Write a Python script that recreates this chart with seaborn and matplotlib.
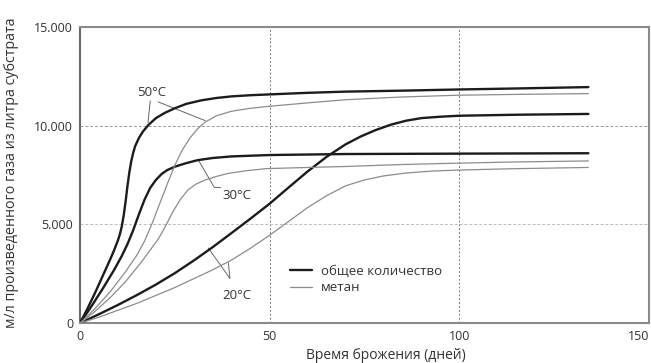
import matplotlib
matplotlib.use("Agg")
import matplotlib.pyplot as plt
from matplotlib.ticker import FuncFormatter, FixedLocator
from matplotlib.lines import Line2D
import pandas as pd
import seaborn as sns

# Gas yield curves: days of fermentation vs. ml of gas per litre of substrate
t50_total_days = [0, 2, 4, 6, 8, 9, 10, 10.5, 11, 11.5, 12, 12.5, 13, 13.5, 14, 14.5, 15.5, 16.5,
                  18, 20, 22.4, 25, 28, 32, 36, 40, 45, 50, 60, 70, 85, 100, 115, 134]
t50_total = [0, 750, 1550, 2400, 3250, 3700, 4200, 4500, 4900, 5450, 6150, 6950, 7650, 8200, 8620,
             8950, 9370, 9680, 10030, 10380, 10650, 10880, 11100, 11280, 11400, 11480, 11540,
             11580, 11660, 11720, 11770, 11830, 11880, 11950]

t50_methane_days = [0, 4, 8, 12, 15, 17, 19, 21, 23, 25, 27, 29, 31, 33, 36, 40, 45, 50, 60, 70,
                    85, 100, 115, 134]
t50_methane = [0, 750, 1600, 2600, 3450, 4150, 5050, 6050, 7050, 8000, 8780, 9380, 9840, 10180,
               10500, 10730, 10880, 10980, 11150, 11310, 11450, 11540, 11580, 11620]

t30_total_days = [0, 3, 6, 9, 11, 12.5, 14, 15.5, 17, 18.5, 20, 21.5, 23, 25, 28, 31, 35, 40, 50,
                  70, 100, 134]
t30_total = [0, 850, 1750, 2700, 3400, 4000, 4700, 5500, 6250, 6850, 7250, 7550, 7750, 7920, 8100,
             8250, 8360, 8440, 8510, 8560, 8580, 8600]

t30_methane_days = [0, 4, 8, 12, 16, 18.5, 20.6, 22.5, 24.5, 26.5, 28.5, 30.5, 33, 36, 39, 44, 49,
                    60, 70, 85, 100, 115, 134]
t30_methane = [0, 600, 1300, 2100, 3050, 3700, 4250, 4900, 5650, 6280, 6750, 7030, 7250, 7430,
               7580, 7720, 7820, 7880, 7930, 8030, 8100, 8160, 8210]

t20_total_days = [0, 5, 10, 15, 20, 25, 30, 35, 40, 45, 50, 55, 60, 65, 70, 74, 78, 82, 86, 90, 95,
                  100, 115, 134]
t20_total = [0, 450, 920, 1420, 1950, 2530, 3170, 3850, 4570, 5300, 6050, 6870, 7680, 8420, 9050,
             9450, 9780, 10050, 10250, 10380, 10450, 10500, 10550, 10590]

t20_methane_days = [0, 5, 10, 15, 20, 25, 30, 35, 40, 45, 50, 55, 60, 65, 70, 75, 80, 86, 93, 100,
                    115, 134]
t20_methane = [0, 300, 650, 1000, 1400, 1800, 2250, 2700, 3200, 3800, 4450, 5150, 5850, 6450, 6950,
               7250, 7450, 7600, 7700, 7750, 7820, 7880]

kind_labels = ["общее количество", "метан"]
temp_labels = ["50°C", "30°C", "20°C"]
x_ticks = [0, 50, 100, 150]
y_ticks = [0, 5000, 10000, 15000]

series = [
    ("50°C", kind_labels[0], t50_total_days, t50_total),
    ("50°C", kind_labels[1], t50_methane_days, t50_methane),
    ("30°C", kind_labels[0], t30_total_days, t30_total),
    ("30°C", kind_labels[1], t30_methane_days, t30_methane),
    ("20°C", kind_labels[0], t20_total_days, t20_total),
    ("20°C", kind_labels[1], t20_methane_days, t20_methane),
]
frames = [pd.DataFrame({"day": d, "value": v, "temp": t, "kind": k}) for t, k, d, v in series]
df = pd.concat(frames, ignore_index=True)

sns.set_theme(style="white")
plt.rcParams["font.family"] = ["Open Sans", "DejaVu Sans"]
text_color = "#333333"

fig = plt.figure(figsize=(6.51, 3.63), dpi=100)
ax = fig.add_axes([0.123, 0.110, 0.874, 0.816])

palette = {kind_labels[0]: "#1c1c1c", kind_labels[1]: "#8c8c8c"}
sizes = {kind_labels[0]: 1.7, kind_labels[1]: 0.9}
sns.lineplot(data=df, x="day", y="value", hue="kind", size="kind", units="temp",
             estimator=None, palette=palette, sizes=sizes, sort=False,
             legend=False, ax=ax, zorder=3)

ax.set_xlim(0, 150)
ax.set_ylim(0, 15000)
ax.xaxis.set_major_locator(FixedLocator(x_ticks))
ax.yaxis.set_major_locator(FixedLocator(y_ticks))
ax.yaxis.set_major_formatter(FuncFormatter(lambda v, p: f"{int(v):,}".replace(",", ".")))
ax.tick_params(axis="both", length=0, labelsize=9, colors=text_color)
ax.tick_params(axis="y", pad=5)
ax.tick_params(axis="x", pad=5)
# the last x label sits flush with the right edge
ax.get_xticklabels()[-1].set_horizontalalignment("right")

# dotted reference grid
for xv in (50, 100):
    ax.axvline(xv, color="#777777", lw=0.7, ls=(0, (2, 2)), zorder=1)
ax.axhline(10000, color="#999999", lw=0.7, ls=(0, (3, 2)), zorder=1)
ax.axhline(5000, color="#bbbbbb", lw=0.7, ls=(0, (3, 2)), zorder=1)

for s in ax.spines.values():
    s.set_color("#8a8a8a")
    s.set_linewidth(1.5)
ax.spines["left"].set_color("#6a6a6a")

ax.set_xlabel("Время брожения (дней)", fontsize=10, color=text_color)
ax.xaxis.set_label_coords(0.538, -0.085)
ax.set_ylabel("м/л произведенного газа из литра субстрата", fontsize=10.3, color=text_color)
ax.yaxis.set_label_coords(-0.107, 0.507)

# temperature labels with leader lines
lead = dict(color="#666666", lw=0.7, zorder=2)
ax.text(19, 11700, temp_labels[0], fontsize=9.5, ha="center", va="center", color=text_color)
ax.plot([18.5, 17.9], [11250, 10150], **lead)
ax.plot([20.6, 33], [11200, 10250], **lead)

ax.text(41.3, 6440, temp_labels[1], fontsize=9.5, ha="center", va="center", color=text_color)
ax.plot([35.3, 31.2], [6900, 8250], **lead)
ax.plot([35.3, 37.0], [6900, 6900], **lead)

ax.text(41.3, 1420, temp_labels[2], fontsize=9.5, ha="center", va="center", color=text_color)
ax.plot([39.5, 33.8], [2265, 3800], **lead)
ax.plot([39.5, 39.1], [2265, 3050], **lead)

handles = [Line2D([], [], color=palette[k], lw=sizes[k]) for k in kind_labels]
ax.legend(handles, kind_labels, loc="center left", bbox_to_anchor=(0.369, 0.147),
          frameon=False, fontsize=9.5, handlelength=1.7, handletextpad=0.65,
          labelspacing=0.25, borderaxespad=0, borderpad=0,
          labelcolor=text_color)

fig.savefig("out.png", dpi=100)
